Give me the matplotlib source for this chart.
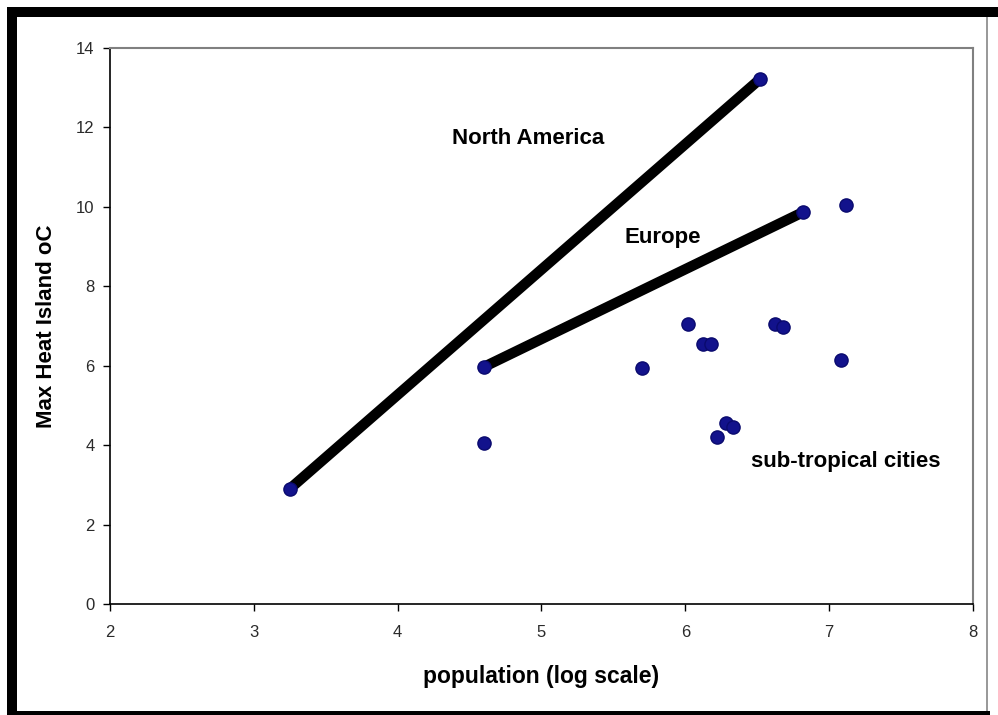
import matplotlib
matplotlib.use("Agg")
import matplotlib.pyplot as plt
from matplotlib.patches import Rectangle

# Urban heat island vs. city size (log10 of population)
na_pop = [3.25, 6.52]
na_heat = [2.90, 13.22]

eu_pop = [4.60, 6.82]
eu_heat = [5.97, 9.87]

city_pop = [7.12, 4.60, 5.70, 6.02, 6.12, 6.18, 6.62, 6.68, 7.08, 6.28, 6.33, 6.22]
city_heat = [10.05, 4.05, 5.95, 7.05, 6.55, 6.55, 7.05, 6.98, 6.15, 4.55, 4.46, 4.20]

x_ticks = [2, 3, 4, 5, 6, 7, 8]
y_ticks = [0, 2, 4, 6, 8, 10, 12, 14]

plt.rcParams["font.family"] = ["Liberation Sans", "DejaVu Sans"]

W, H = 998, 715
fig = plt.figure(figsize=(W / 100, H / 100), dpi=100)
fig.patch.set_facecolor("white")

ax = fig.add_axes([110 / W, (H - 604) / H, (973 - 110) / W, (604 - 48) / H])
ax.set_facecolor("white")

dot = dict(marker="o", markersize=9.5, color="#12128c", markeredgecolor="#0a0a6e",
           linestyle="none", zorder=3)

ax.plot(na_pop, na_heat, color="black", linewidth=7.5, solid_capstyle="butt", zorder=2)
ax.plot(eu_pop, eu_heat, color="black", linewidth=7.5, solid_capstyle="butt", zorder=2)
ax.plot(na_pop, na_heat, **dot)
ax.plot(eu_pop, eu_heat, **dot)
ax.plot(city_pop, city_heat, **dot)

ax.set_xlim(2, 8)
ax.set_ylim(0, 14)
ax.set_xticks(x_ticks)
ax.set_yticks(y_ticks)
ax.tick_params(axis="both", direction="out", length=5, width=1, labelsize=12,
               colors="black", labelcolor="#2a2a2a")
ax.tick_params(axis="x", pad=10)
ax.tick_params(axis="y", pad=6)

for side in ("left", "bottom"):
    ax.spines[side].set_color("black")
    ax.spines[side].set_linewidth(1.2)
for side in ("top", "right"):
    ax.spines[side].set_color("#808080")
    ax.spines[side].set_linewidth(1.5)

label_font = ["Liberation Sans Narrow", "Liberation Sans", "DejaVu Sans"]
ax.set_xlabel("population (log scale)", fontsize=16.5, fontweight="bold",
              family=label_font, labelpad=18)
ax.set_ylabel("Max Heat Island oC", fontsize=16, fontweight="bold",
              family=label_font, labelpad=14)

ax.text(4.906, 11.73, "North America", fontsize=16, fontweight="bold",
        ha="center", va="center")
ax.text(5.845, 9.24, "Europe", fontsize=16, fontweight="bold",
        ha="center", va="center")
ax.text(7.117, 3.576, "sub-tropical cities", fontsize=16, fontweight="bold",
        ha="center", va="center")

# window frame around the chart
def frame_rect(x0, y0, x1, y1, color):
    fig.patches.append(Rectangle((x0 / W, 1 - y1 / H), (x1 - x0) / W, (y1 - y0) / H,
                                 transform=fig.transFigure, facecolor=color,
                                 edgecolor="none", zorder=10))

frame_rect(7, 7, 998, 17, "black")
frame_rect(7, 7, 17, 715, "black")
frame_rect(7, 711, 990, 715, "black")
frame_rect(986, 17, 988, 711, "#9a9a9a")

fig.savefig("out.png", dpi=100, facecolor="white")
